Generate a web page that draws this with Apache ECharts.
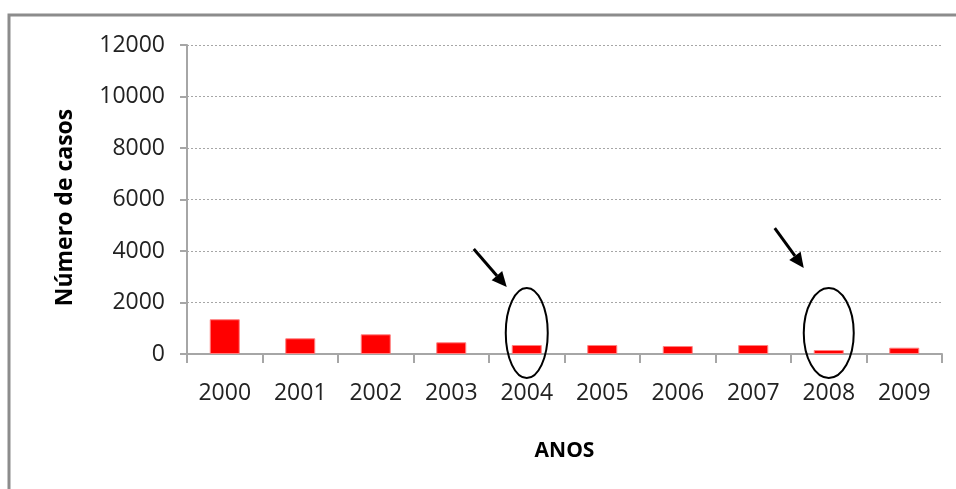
<!DOCTYPE html>
<html>
<head>
<meta charset="utf-8">
<script src="https://cdn.jsdelivr.net/npm/echarts@6/dist/echarts.min.js"></script>
<style>
  html, body { margin: 0; padding: 0; background: #fff; }
  #main { width: 956px; height: 489px; }
</style>
</head>
<body>
<div id="main"></div>
<script>
// dados
const anos = ['2000', '2001', '2002', '2003', '2004', '2005', '2006', '2007', '2008', '2009']
const casos = [1350, 610, 765, 455, 350, 350, 310, 350, 155, 245]
const yTicks = [0, 2000, 4000, 6000, 8000, 10000, 12000]
// anos destacados (elipse + seta)
const destaques = ['2004', '2008']

const chart = echarts.init(document.getElementById('main'))
const fonte = '"Open Sans", Lato, sans-serif'

const option = {
  animation: false,
  backgroundColor: '#fff',
  grid: { left: 187, right: 14, top: 45, bottom: 135, containLabel: false },
  xAxis: {
    type: 'category',
    data: anos,
    name: 'ANOS',
    nameLocation: 'middle',
    nameGap: 87,
    nameTextStyle: { fontFamily: fonte, fontWeight: 'bold', fontSize: 21, color: '#000' },
    axisLine: { lineStyle: { color: '#a6a6a6', width: 2 } },
    axisTick: { show: true, length: 9, lineStyle: { color: '#a6a6a6', width: 2 } },
    axisLabel: { fontFamily: fonte, fontSize: 23, color: '#222', margin: 28 }
  },
  yAxis: {
    type: 'value',
    min: yTicks[0],
    max: yTicks[yTicks.length - 1],
    interval: 2000,
    name: 'Número de casos',
    nameLocation: 'middle',
    nameGap: 110,
    nameTextStyle: { fontFamily: fonte, fontWeight: 'bold', fontSize: 23, color: '#000', padding: [0, 16, 0, 0] },
    axisLine: { show: true, lineStyle: { color: '#a6a6a6', width: 2 } },
    axisTick: { show: true, length: 7, lineStyle: { color: '#a6a6a6', width: 2 } },
    axisLabel: { fontFamily: fonte, fontSize: 23, color: '#222', margin: 22, formatter: v => String(v) },
    splitLine: { show: true, lineStyle: { color: '#a6a6a6', type: [2, 2], width: 1 } }
  },
  series: [
    {
      type: 'bar',
      data: casos,
      barWidth: 30,
      itemStyle: { color: '#ff0000', borderColor: '#ff8080', borderWidth: 1 },
      silent: true
    }
  ]
}
chart.setOption(option)

// anotações: elipses e setas, posicionadas pelo eixo
const ajustes = [
  { rx: 21, tail: [-53, -84], tip: [-20, -46] },
  { rx: 25, tail: [-54, -105], tip: [-25, -65] }
]
const graficos = [
  {
    type: 'rect',
    shape: { x: 9, y: 15, width: 1200, height: 1000 },
    style: { fill: 'none', stroke: '#8c8c8c', lineWidth: 3 },
    silent: true
  }
]
destaques.forEach((ano, i) => {
  const c = chart.convertToPixel({ seriesIndex: 0 }, [ano, 815])
  const a = ajustes[i]
  graficos.push({
    type: 'ellipse',
    shape: { cx: c[0], cy: c[1], rx: a.rx, ry: 45 },
    style: { fill: 'none', stroke: '#000', lineWidth: 2 },
    z: 100
  })
  const x1 = c[0] + a.tail[0], y1 = c[1] + a.tail[1]
  const x2 = c[0] + a.tip[0], y2 = c[1] + a.tip[1]
  const ang = Math.atan2(y2 - y1, x2 - x1)
  const len = 15, half = 7
  const bx = x2 - len * Math.cos(ang), by = y2 - len * Math.sin(ang)
  graficos.push({
    type: 'line',
    shape: { x1: x1, y1: y1, x2: bx, y2: by },
    style: { stroke: '#000', lineWidth: 3 },
    z: 100
  })
  graficos.push({
    type: 'polygon',
    shape: {
      points: [
        [x2, y2],
        [bx + half * Math.sin(ang), by - half * Math.cos(ang)],
        [bx - half * Math.sin(ang), by + half * Math.cos(ang)]
      ]
    },
    style: { fill: '#000' },
    z: 100
  })
})
chart.setOption({ graphic: graficos })
</script>
</body>
</html>
